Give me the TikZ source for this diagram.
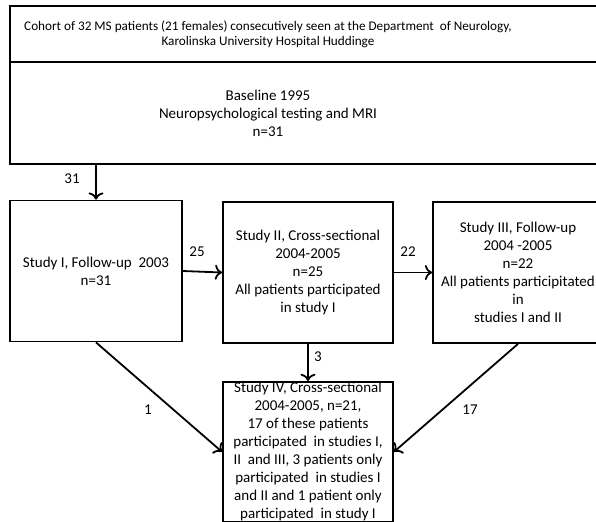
\documentclass[tikz,border=0pt]{standalone}
\usepackage{fontspec}
\setmainfont{Carlito}
\usetikzlibrary{positioning,arrows,calc,arrows.meta}
\tikzset{
	flow/.style={>=To,line width=0.9pt,x=0.5pt,y=-0.5pt},
	box/.style={rectangle,draw,line width=0.9pt,align=center,inner sep=1pt},
	study/.style={box,minimum width=85pt,minimum height=70.5pt},
	txt/.style={align=center,inner sep=0pt},
	num/.style={inner sep=0pt}
}

\begin{document}
\begin{tikzpicture}[flow]
	\useasboundingbox (0,0) rectangle (596,521);
	\clip (0,0) rectangle (596,521);
	\fontsize{7.5}{9}\selectfont
	
	\node[box,anchor=north west,minimum width=300.5pt,minimum height=28pt] (cohort) at (9,5) {};
	\node[box,anchor=north west,minimum width=300.5pt,minimum height=51pt] (baseline) at (9,61) {};
	\node[txt,font=\fontsize{6.6}{7.6}\selectfont] (cohorttext) at (268,34) {Cohort of 32 MS patients (21 females) consecutively seen at the Department \ of Neurology,\\ Karolinska University Hospital Huddinge};
	\node[txt] (baselinetext) at (268,113) {Baseline 1995\\ Neuropsychological testing and MRI\\ n=31};
	
	\node[study,minimum width=86pt] (s1) at (96,271) {Study I, Follow-up \ 2003\\ n=31};
	\node[study] (s2) at (308,272.5) {Study II, Cross-sectional\\ 2004-2005\\ n=25\\ All patients participated\\ in study I};
	\node[study] (s3) at (518,272.5) {Study III, Follow-up\\ 2004 -2005\\ n=22\\ All patients participitated\\ in\\ studies I and II};
	\node[box,anchor=north,minimum width=85pt,inner ysep=0.3pt] (s4) at (308,381) {Study IV, Cross-sectional\\ 2004-2005, n=21,\\ 17 of these patients\\ participated \ in studies I,\\ II \ and III, 3 patients only\\ participated \ in studies I\\ and II and 1 patient only\\ participated \ in study I};
	
	\draw[->] (baseline.south -| s1.north) -- (s1.north);
	\draw[->] (s1.east) -- (s2.west);
	\draw[->] (s2.east) -- (s3.west);
	\draw[->] (s2.south) -- (s4.north);
	\draw[->] (s1.south) -- (s4.west);
	\draw[->] (s3.south) -- (s4.east);
	
	\node[num] (n31) at (72,179) {31};
	\node[num] (n25) at (197,252) {25};
	\node[num] (n22) at (408,252) {22};
	\node[num] (n3) at (318,357) {3};
	\node[num] (n1) at (148,410) {1};
	\node[num] (n17) at (470,410) {17};
\end{tikzpicture}
\end{document}
